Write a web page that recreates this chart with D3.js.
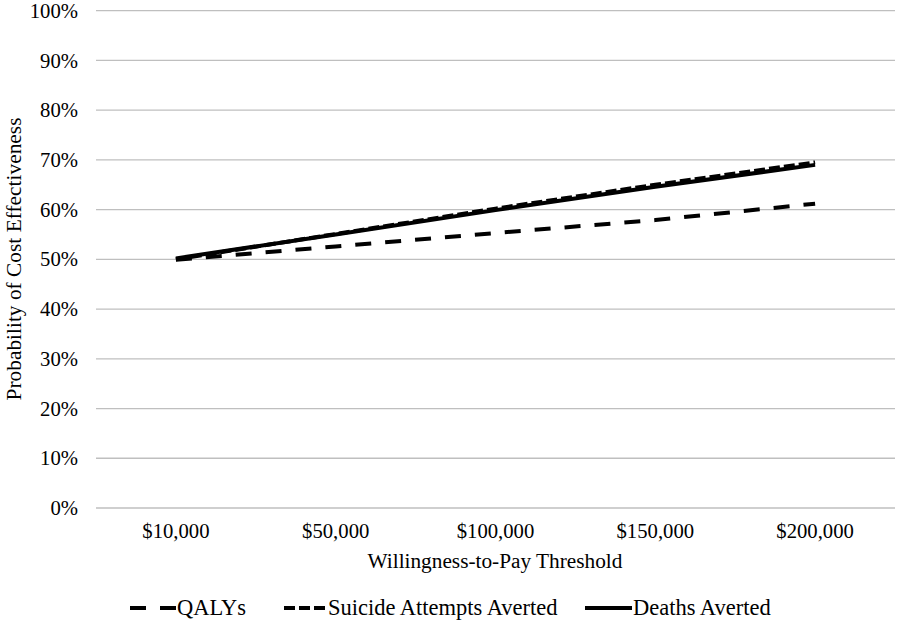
<!DOCTYPE html>
<html><head><meta charset="utf-8">
<script src="https://cdn.jsdelivr.net/npm/d3@7"></script>
<style>body{margin:0;background:#fff}svg{display:block}text{font-family:"Liberation Serif","Times New Roman",serif;fill:#000}</style>
</head><body><svg id="c" width="900" height="626"></svg>
<script>
const categories = ["$10,000","$50,000","$100,000","$150,000","$200,000"];
const qalys = [49.9, 52.6, 55.3, 57.9, 61.2];
const suicide = [50.0, 55.1, 60.2, 65.0, 69.5];
const deaths = [50.2, 55.0, 59.9, 64.6, 69.0];
const yTicks = [0,10,20,30,40,50,60,70,80,90,100];
const seriesNames = ["QALYs","Suicide Attempts Averted","Deaths Averted"];

const svg = d3.select("#c");
const L = 96, R = 895, T = 10.7, B = 508;
const x = d3.scaleBand().domain(categories).range([L, R]);
const y = d3.scaleLinear().domain([0,100]).range([B, T]);

const grid = svg.append("g");
grid.selectAll("line").data(yTicks).join("line")
  .attr("x1", L).attr("x2", R).attr("y1", d=>y(d)).attr("y2", d=>y(d))
  .attr("stroke", "#bfbfbf").attr("stroke-width", 1.3);

const yAxis = svg.append("g").attr("transform", `translate(${L},0)`)
  .call(d3.axisLeft(y).tickValues(yTicks).tickFormat(d=>d+"%").tickSize(0).tickPadding(18));
yAxis.select(".domain").remove();
yAxis.selectAll("text").style("font-size","20.7px").style("font-family","Liberation Serif");

const xAxis = svg.append("g").attr("transform", `translate(0,${B})`)
  .call(d3.axisBottom(x).tickSize(0).tickPadding(15));
xAxis.select(".domain").remove();
xAxis.selectAll("text").style("font-size","20.7px").style("font-family","Liberation Serif");

svg.append("text").attr("x", 495).attr("y", 568).attr("text-anchor","middle")
  .style("font-size","21.3px").text("Willingness-to-Pay Threshold");
svg.append("text").attr("transform","translate(21,259) rotate(-90)").attr("text-anchor","middle")
  .style("font-size","21.4px").text("Probability of Cost Effectiveness");

const line = d3.line().x((d,i)=>x(categories[i]) + x.bandwidth()/2).y(d=>y(d));
const styles = [
  {data: qalys, dash: "16,14"},
  {data: suicide, dash: "11,4"},
  {data: deaths, dash: null}
];
styles.forEach(s => {
  svg.append("path").datum(s.data).attr("d", line)
    .attr("fill","none").attr("stroke","#000").attr("stroke-width",4)
    .attr("stroke-dasharray", s.dash);
});

// legend
const leg = svg.append("g");
const legX = [130, 284, 585];
const legW = [46, 43, 47];
seriesNames.forEach((n,i) => {
  leg.append("line").attr("x1", legX[i]).attr("x2", legX[i]+legW[i]).attr("y1", 608).attr("y2", 608)
    .attr("stroke","#000").attr("stroke-width",4).attr("stroke-dasharray", styles[i].dash);
  leg.append("text").attr("x", legX[i]+legW[i]+1).attr("y", 614.5).style("font-size","22.5px").text(n);
});
</script></body></html>
